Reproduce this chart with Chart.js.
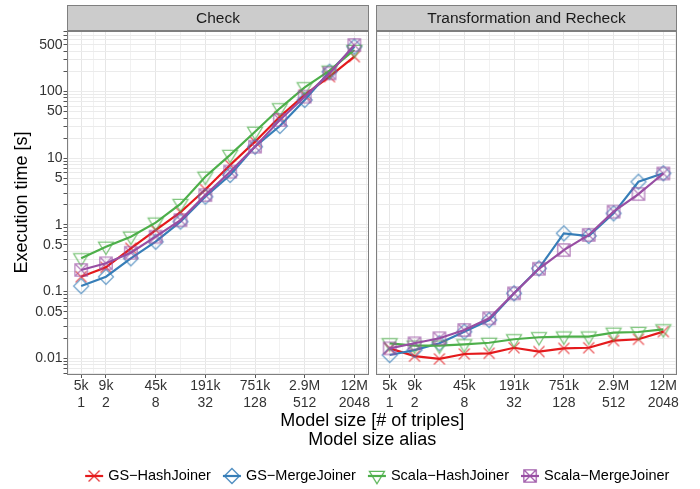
<!DOCTYPE html>
<html><head><meta charset="utf-8">
<script src="https://cdn.jsdelivr.net/npm/chart.js@4"></script>
<style>html,body{margin:0;padding:0;background:#fff}#wrap{position:relative;width:700px;height:489px}</style>
</head><body><div id="wrap"><canvas id="c" width="700" height="489"></canvas></div>
<script>
// ---------- data ----------
const alias = [1, 2, 4, 8, 16, 32, 64, 128, 256, 512, 1024, 2048];
const labeledAlias = [1, 2, 8, 32, 128, 512, 2048];
const sizeLabels = ['5k', '9k', '45k', '191k', '751k', '2.9M', '12M'];
const yLabelValues = [0.01, 0.05, 0.1, 0.5, 1, 5, 10, 50, 100, 500];
const yLabelTexts = ['0.01', '0.05', '0.1', '0.5', '1', '5', '10', '50', '100', '500'];
const panelNames = ['Check', 'Transformation and Recheck'];
const seriesNames = ['GS\u2212HashJoiner', 'GS\u2212MergeJoiner', 'Scala\u2212HashJoiner', 'Scala\u2212MergeJoiner'];
const xTitleLines = ['Model size [# of triples]', 'Model size alias'];
const yTitle = 'Execution time [s]';

const checkGSHash     = [0.167, 0.231, 0.446, 0.838, 1.55, 3.4, 7.9, 17.7, 41.9, 88.7, 167, 333];
const checkGSMerge    = [0.121, 0.167, 0.316, 0.56, 1.12, 2.65, 5.6, 14.9, 30.4, 74.6, 198, 470];
const checkScalaHash  = [0.316, 0.471, 0.666, 1.08, 2.06, 5.28, 11.2, 24.9, 56, 115.6, 205, 419];
const checkScalaMerge = [0.211, 0.266, 0.383, 0.666, 1.18, 2.8, 6.28, 14.9, 37.4, 83.6, 187, 498];

const recheckGSHash     = [0.0141, 0.0108, 0.0098, 0.0116, 0.0119, 0.0144, 0.0126, 0.0141, 0.0144, 0.0184, 0.0193, 0.0251];
const recheckGSMerge    = [0.0112, 0.0133, 0.0168, 0.0251, 0.0375, 0.0942, 0.223, 0.748, 0.682, 1.49, 4.44, 5.94];
const recheckScalaHash  = [0.0168, 0.0155, 0.0155, 0.0162, 0.0171, 0.0193, 0.0207, 0.0212, 0.0212, 0.0242, 0.0248, 0.0272];
const recheckScalaMerge = [0.0141, 0.0168, 0.0200, 0.0266, 0.0398, 0.0942, 0.220, 0.420, 0.706, 1.58, 2.9, 5.9];

// ---------- styling / layout ----------
const FONT = "'Liberation Sans', Arial, Helvetica, sans-serif";
const colors = ['#E41A1C', '#377EB8', '#4DAF4A', '#984EA3'];
const shapes = ['x', 'diamond', 'tri', 'sqx'];
const P = {l1: 67.5, r1: 368, l2: 376, r2: 677, top: 31, bot: 374, stripTop: 5};
const Y_MIN = 0.00582, Y_MAX = 807;

// x limits (log2 space, 5% expansion like ggplot)
const lo2 = Math.log2(alias[0]), hi2 = Math.log2(alias[alias.length - 1]);
const exp2 = (hi2 - lo2) * 0.05;
const X_LO = lo2 - exp2, X_HI = hi2 + exp2;
const axisW = (P.r2 - P.l1) / 2;
const ppu1 = (P.r1 - P.l1) / (X_HI - X_LO);
const ppu2 = (P.r2 - P.l2) / (X_HI - X_LO);
const x1Min = Math.pow(2, X_LO), x1Max = Math.pow(2, X_LO + axisW / ppu1);
const x2Min = Math.pow(2, X_HI - axisW / ppu2), x2Max = Math.pow(2, X_HI);

// grid positions
const majors2 = labeledAlias.map(a => Math.log2(a));
const grid2 = new Set(majors2);
grid2.add(majors2[0] - 0.5 * (majors2[1] - majors2[0]));
grid2.add(majors2[majors2.length - 1] + 0.5 * (majors2[1] - majors2[0]));
for (let i = 0; i < majors2.length - 1; i++) grid2.add((majors2[i] + majors2[i + 1]) / 2);
const xGridVals = [...grid2].filter(v => v >= X_LO && v <= X_HI).sort((a, b) => a - b).map(v => Math.pow(2, v));

const yGridVals = [];
for (let d = -3; d <= 3; d++) for (let m = 1; m <= 9; m++) {
  const v = m * Math.pow(10, d);
  if (v >= Y_MIN && v <= Y_MAX) yGridVals.push(v);
}
const near = (a, b) => Math.abs(a / b - 1) < 1e-6;
const isMajorX = v => labeledAlias.some(a => near(a, v));

function marker(shape, color, alpha, size) {
  const c = document.createElement('canvas');
  c.width = c.height = size || 20;
  const g = c.getContext('2d');
  const m = c.width / 2;
  g.globalAlpha = alpha; g.strokeStyle = color; g.lineWidth = 1.3;
  g.beginPath();
  if (shape === 'x') { const s = 5.5; g.moveTo(m - s, m - s); g.lineTo(m + s, m + s); g.moveTo(m + s, m - s); g.lineTo(m - s, m + s); }
  else if (shape === 'diamond') { const s = 7.5; g.moveTo(m, m - s); g.lineTo(m + s, m); g.lineTo(m, m + s); g.lineTo(m - s, m); g.closePath(); }
  else if (shape === 'tri') { g.moveTo(m - 7.5, m - 4.7); g.lineTo(m + 7.5, m - 4.7); g.lineTo(m, m + 7.8); g.closePath(); }
  else if (shape === 'sqx') { const s = 6.2; g.rect(m - s, m - s, 2 * s, 2 * s); g.moveTo(m - s, m - s); g.lineTo(m + s, m + s); g.moveTo(m + s, m - s); g.lineTo(m - s, m + s); }
  g.stroke();
  return c;
}

const panelSeries = [
  [checkGSHash, checkGSMerge, checkScalaHash, checkScalaMerge],
  [recheckGSHash, recheckGSMerge, recheckScalaHash, recheckScalaMerge]
];
const datasets = [];
panelSeries.forEach((series, p) => {
  series.forEach((vals, s) => {
    datasets.push({
      label: seriesNames[s],
      data: alias.map((a, i) => ({x: a, y: vals[i]})),
      xAxisID: p === 0 ? 'x' : 'x2',
      yAxisID: 'y',
      borderColor: colors[s],
      backgroundColor: colors[s],
      borderWidth: 2.2,
      tension: 0,
      fill: false,
      pointStyle: marker(shapes[s], colors[s], 0.7),
      pointRadius: 7,
      order: 4 - s
    });
  });
});

function xAxis(min, max) {
  return {
    type: 'logarithmic', position: 'bottom', stack: 'panels', stackWeight: 1,
    min: min, max: max, bounds: 'data', offset: false,
    afterBuildTicks: s => { s.ticks = xGridVals.filter(v => v >= min && v <= max).map(v => ({value: v})); },
    afterFit: s => { s.height = 38; },
    grid: {
      color: c => (c.tick && isMajorX(c.tick.value)) ? '#e6e6e6' : '#f1f1f1',
      lineWidth: 1, drawTicks: true, tickLength: 4,
      tickColor: c => (c.tick && isMajorX(c.tick.value)) ? '#555555' : 'rgba(0,0,0,0)'
    },
    border: {display: false},
    ticks: {
      autoSkip: false, maxRotation: 0, minRotation: 0, padding: 0,
      font: {family: FONT, size: 14}, color: '#333333',
      callback: v => {
        const i = labeledAlias.findIndex(a => near(a, v));
        return i < 0 ? '' : [sizeLabels[i], String(labeledAlias[i])];
      }
    }
  };
}

const facetPlugin = {
  id: 'facet',
  beforeDatasetsDraw(chart) {
    const g = chart.ctx;
    g.save(); g.fillStyle = '#ffffff';
    g.fillRect(P.r1, P.top - 1, P.l2 - P.r1, P.bot - P.top + 2);
    g.restore();
  },
  afterDraw(chart) {
    const g = chart.ctx;
    g.save();
    const panels = [[P.l1, P.r1 + 0.5], [P.l2 + 0.5, P.r2 - 0.5]];
    panels.forEach(([l, r], i) => {
      g.fillStyle = '#cccccc';
      g.fillRect(l, P.stripTop, r - l, P.top - P.stripTop);
      g.strokeStyle = '#7f7f7f'; g.lineWidth = 1;
      g.strokeRect(l, P.stripTop + 0.5, r - l, P.top - P.stripTop);
      g.strokeRect(l, P.top - 0.5, r - l, P.bot - P.top + 1);
      g.fillStyle = '#1a1a1a';
      g.font = '15.5px ' + FONT;
      g.textAlign = 'center'; g.textBaseline = 'middle';
      g.fillText(panelNames[i], (l + r) / 2, (P.stripTop + P.top) / 2 + 0.5);
    });
    // x axis titles
    const cx = (P.l1 + P.r2) / 2;
    g.fillStyle = '#000000';
    g.font = '18px ' + FONT;
    g.textAlign = 'center'; g.textBaseline = 'middle';
    g.fillText(xTitleLines[0], cx, 421.5);
    g.fillText(xTitleLines[1], cx, 440);
    // legend
    g.font = '14.5px ' + FONT;
    const keyW = 18, gapIT = 5, gapItems = 12;
    const widths = seriesNames.map(t => keyW + gapIT + g.measureText(t).width);
    const total = widths.reduce((a, b) => a + b, 0) + gapItems * (widths.length - 1);
    let x = cx + 5 - total / 2;
    const ly = 476;
    seriesNames.forEach((t, i) => {
      g.strokeStyle = colors[i]; g.lineWidth = 2.2;
      g.beginPath(); g.moveTo(x, ly); g.lineTo(x + keyW, ly); g.stroke();
      const mk = marker(shapes[i], colors[i], 0.9);
      g.drawImage(mk, x + keyW / 2 - mk.width / 2, ly - mk.height / 2);
      g.fillStyle = '#000000'; g.textAlign = 'left'; g.textBaseline = 'middle';
      g.fillText(t, x + keyW + gapIT, ly);
      x += widths[i] + gapItems;
    });
    g.restore();
  }
};

new Chart(document.getElementById('c'), {
  type: 'line',
  data: {datasets: datasets},
  plugins: [facetPlugin],
  options: {
    responsive: false, animation: false, events: [],
    layout: {padding: {left: 0, right: 700 - P.r2, top: P.top, bottom: 77}},
    plugins: {legend: {display: false}, tooltip: {enabled: false}, title: {display: false}},
    scales: {
      x: xAxis(x1Min, x1Max),
      x2: xAxis(x2Min, x2Max),
      y: {
        type: 'logarithmic', position: 'left', min: Y_MIN, max: Y_MAX, bounds: 'data',
        afterBuildTicks: s => { s.ticks = yGridVals.map(v => ({value: v})); },
        afterFit: s => { s.width = P.l1; },
        title: {display: true, text: yTitle, font: {family: FONT, size: 18}, color: '#000000', padding: {top: 11, bottom: 0}},
        grid: {color: '#ebebeb', lineWidth: 1, drawTicks: true, tickLength: 4, tickColor: '#555555'},
        border: {display: false},
        ticks: {
          autoSkip: false, padding: 1, font: {family: FONT, size: 14}, color: '#333333',
          callback: v => {
            const i = yLabelValues.findIndex(a => near(a, v));
            return i < 0 ? '' : yLabelTexts[i];
          }
        }
      }
    }
  }
});
</script>
</body></html>
